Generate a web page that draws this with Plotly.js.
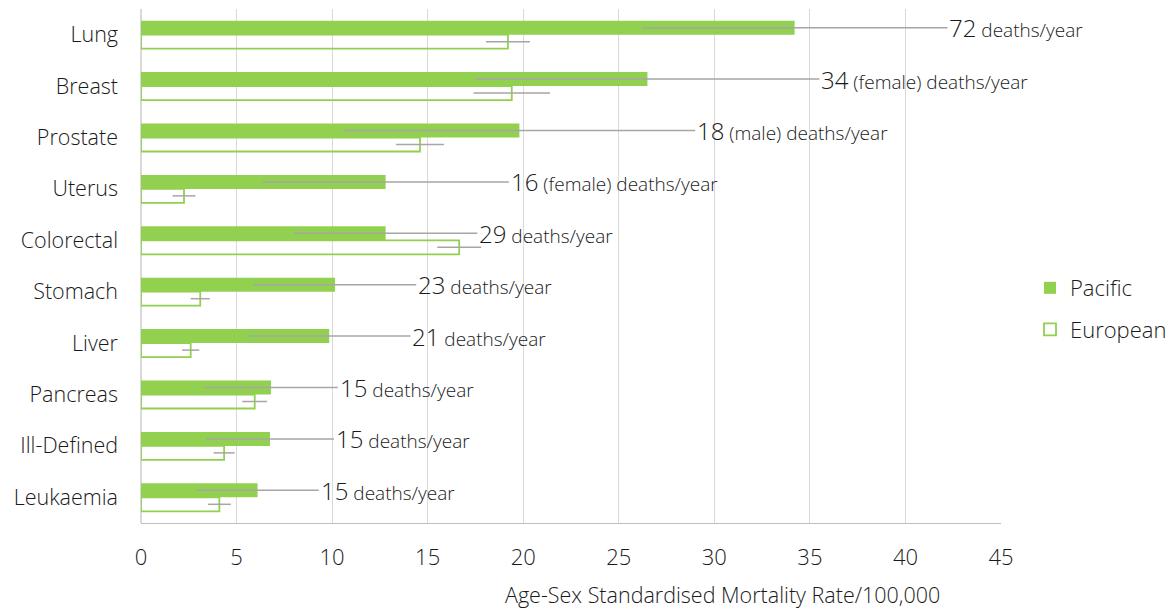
<!DOCTYPE html>
<html>
<head>
<meta charset="utf-8">
<script src="https://cdn.plot.ly/plotly-3.0.1.min.js"></script>
<style>html,body{margin:0;padding:0;background:#fff;}#chart{width:1175px;height:610px;}</style>
</head>
<body>
<div id="chart"></div>
<script>
var categories = ["Lung","Breast","Prostate","Uterus","Colorectal","Stomach","Liver","Pancreas","Ill-Defined","Leukaemia"];
var pacificRate = [34.2, 26.5, 19.8, 12.8, 12.8, 10.15, 9.85, 6.8, 6.75, 6.1];
var pacificErr  = [8.0, 9.0, 9.2, 6.45, 4.8, 4.25, 4.25, 3.5, 3.35, 3.2];
var europeanRate = [19.2, 19.4, 14.6, 2.25, 16.65, 3.1, 2.6, 5.95, 4.35, 4.1];
var europeanErr  = [1.15, 2.0, 1.25, 0.6, 1.15, 0.5, 0.45, 0.65, 0.55, 0.6];
var deathCounts = ["72", "34", "18", "16", "29", "23", "21", "15", "15", "15"];
var deathNotes  = ["", "(female) ", "(male) ", "(female) ", "", "", "", "", "", ""];

var green = "#92D050";
var textColor = "#1a1a1a";
var fontFam = "'Open Sans', Lato, sans-serif";

var pacific = {
  type: "bar", orientation: "h", name: "Pacific",
  y: categories, x: pacificRate,
  marker: {color: green, line: {width: 0}},
  error_x: {type: "data", array: pacificErr, visible: true, color: "#a6a6a6", thickness: 1.5, width: 0},
  legendgroup: "a"
};
var european = {
  type: "bar", orientation: "h", name: "European",
  y: categories, x: europeanRate,
  marker: {color: "rgba(0,0,0,0)", line: {color: green, width: 1.8}},
  error_x: {type: "data", array: europeanErr, visible: true, color: "#a6a6a6", thickness: 1.5, width: 0},
  legendgroup: "b"
};

var annotations = categories.map(function(c, i){
  return {
    x: pacificRate[i] + pacificErr[i], y: c, xref: "x", yref: "y",
    xanchor: "left", yanchor: "middle", showarrow: false, xshift: 0, yshift: 7,
    text: '<span style="font-size:24px">' + deathCounts[i] + '</span> ' + deathNotes[i] + 'deaths/year',
    font: {family: fontFam, size: 19, color: textColor, weight: 300}
  };
});
annotations.push({
  x: (722 - 141) / 860, y: (523 - 594) / 514, xref: "paper", yref: "paper",
  xanchor: "center", yanchor: "middle", showarrow: false,
  text: "Age-Sex Standardised Mortality Rate/100,000",
  font: {family: fontFam, size: 21.5, color: textColor, weight: 300}
});

var layout = {
  width: 1175, height: 610,
  margin: {l: 141, r: 174, t: 9, b: 87, pad: 0, autoexpand: false},
  paper_bgcolor: "#fff", plot_bgcolor: "#fff",
  barmode: "group", bargap: 0.455, bargroupgap: 0,
  font: {family: fontFam, color: textColor, size: 21.5, weight: 300},
  xaxis: {
    range: [0, 45], dtick: 5, tick0: 0, showgrid: true, gridcolor: "#d9d9d9", gridwidth: 1.2,
    zeroline: true, zerolinecolor: "#d9d9d9", zerolinewidth: 1.2,
    showline: true, linecolor: "#bfbfbf", linewidth: 1.2,
    ticks: "", ticklabelstandoff: 14, automargin: false,
    tickfont: {family: fontFam, size: 22, color: textColor, weight: 300}
  },
  yaxis: {
    type: "category", autorange: "reversed", showgrid: false, zeroline: false, showline: false,
    ticks: "", ticklabelstandoff: 22, automargin: false,
    tickfont: {family: fontFam, size: 21.5, color: textColor, weight: 300}
  },
  showlegend: true,
  legend: {
    xref: "container", yref: "container",
    x: 1030 / 1175, xanchor: "left", y: 1 - 309 / 610, yanchor: "middle",
    font: {family: fontFam, size: 22, color: textColor, weight: 300},
    tracegroupgap: 10, bgcolor: "rgba(0,0,0,0)", traceorder: "grouped"
  },
  annotations: annotations
};

Plotly.newPlot("chart", [pacific, european], layout, {displayModeBar: false, staticPlot: true});
</script>
</body>
</html>
